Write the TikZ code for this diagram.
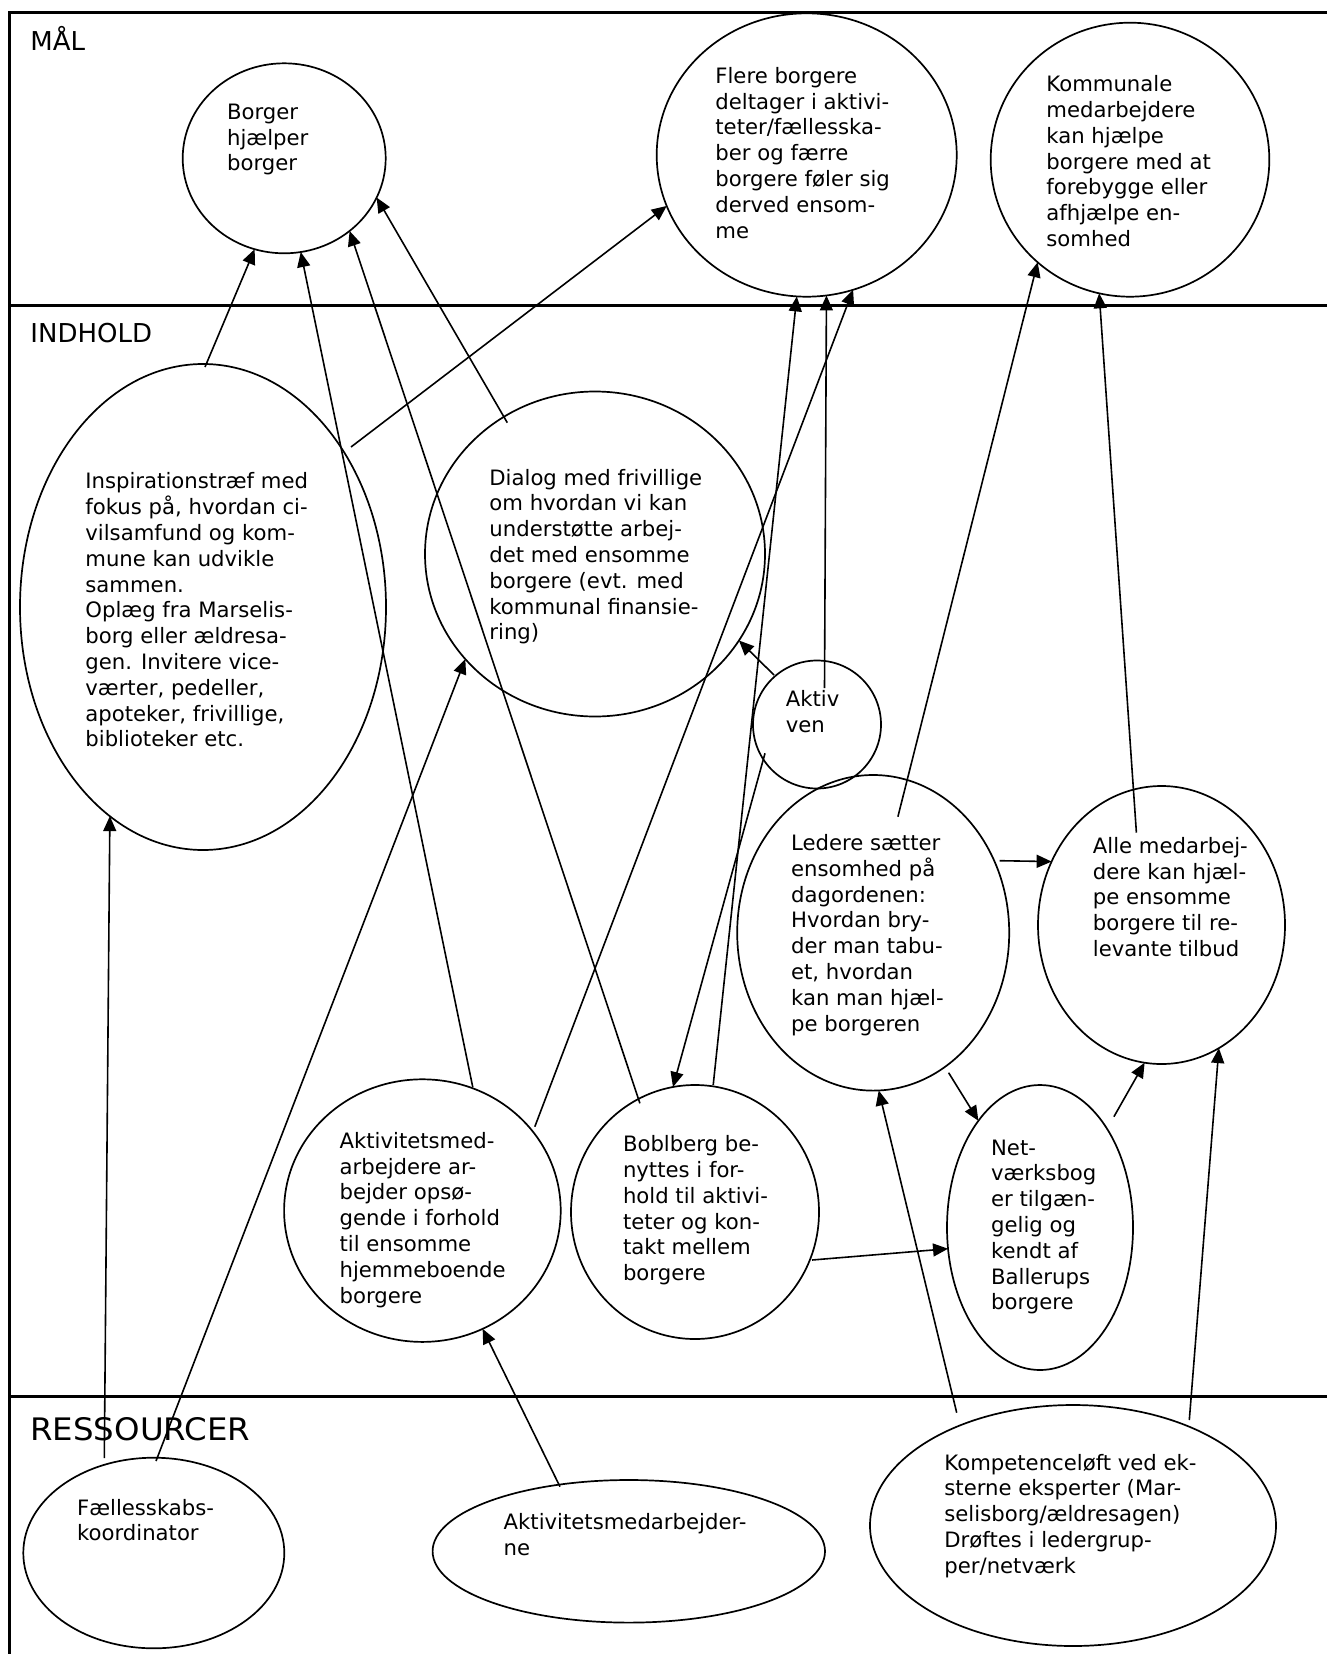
\documentclass[tikz,border=0pt]{standalone}
\usepackage{fontspec}
\setmainfont{DejaVu Sans}
\newfontfamily\widesans{DejaVu Sans}[FakeStretch=1.045]
\usetikzlibrary{arrows.meta,calc,shapes.geometric}
\newcommand{\txtblock}[1]{\begin{tabular}[t]{@{}l@{}}#1\end{tabular}}
\begin{document}
\begin{tikzpicture}[x=0.5pt,y=-0.5pt,
  ell/.style={draw,ellipse,line width=0.85pt,inner sep=0pt,outer sep=0pt},
  lbl/.style={anchor=base west,inner sep=0pt,font=\fontsize{10.6pt}{12.9pt}\selectfont},
  sect/.style={anchor=base west,inner sep=0pt,font=\fontsize{13pt}{15pt}\selectfont},
  conn/.style={line width=0.8pt,-{Triangle[length=7.5pt,width=6.5pt]}},
  frame/.style={line width=1.5pt}]
\useasboundingbox (0,0) rectangle (1327,1654);
% frame
\draw[frame] (9.5,1660) -- (9.5,12) -- (1330,12);
\draw[frame] (9.5,305) -- (1330,305);
\draw[frame] (9.5,1396.7) -- (1330,1396.7);
% section labels
\node[sect] (mal) at (30,50) {MÅL};
\node[sect] (indhold) at (30,342) {INDHOLD};
\node[sect,font=\widesans\fontsize{15.5pt}{18pt}\selectfont] (ress) at (30,1440) {RESSOURCER};
% ellipses (sizes in pt = half the pixel size)
\node[ell,minimum width=101.5pt,minimum height=95pt] (borger) at (284.2,158.3) {};
\node[ell,minimum width=150pt,minimum height=141.7pt] (flere) at (806.7,155) {};
\node[ell,minimum width=139.3pt,minimum height=137pt] (kommunal) at (1130,159.7) {};
\node[ell,minimum width=183pt,minimum height=243pt] (insp) at (203,607) {};
\node[ell,minimum width=170pt,minimum height=162.5pt] (dialog) at (595,554) {};
\node[ell,minimum width=64pt,minimum height=64pt] (aktivven) at (817,724.5) {};
\node[ell,minimum width=136pt,minimum height=157.8pt] (ledere) at (873.2,932.8) {};
\node[ell,minimum width=123.5pt,minimum height=139pt] (alle) at (1161.5,925) {};
\node[ell,minimum width=138.3pt,minimum height=131.3pt] (aktmed) at (422.4,1210.6) {};
\node[ell,minimum width=124pt,minimum height=127pt] (boblberg) at (695,1212) {};
\node[ell,minimum width=93pt,minimum height=142.5pt] (netvaerk) at (1040,1227.5) {};
\node[ell,minimum width=130.5pt,minimum height=95.3pt] (faelles) at (153.8,1553) {};
\node[ell,minimum width=196.2pt,minimum height=71.3pt] (aktmedne) at (628.8,1551.3) {};
\node[ell,minimum width=203pt,minimum height=120.5pt] (kompetence) at (1073,1525.5) {};
% texts
\node[lbl] (borger-t) at (226.7,119.3) {\txtblock{Borger\\hjælper\\borger}};
\node[lbl] (flere-t) at (715,83.3) {\txtblock{Flere borgere\\deltager i aktivi-\\teter/fællesska-\\ber og færre\\borgere føler sig\\derved ensom-\\me}};
\node[lbl] (kommunal-t) at (1046,91.7) {\txtblock{Kommunale\\medarbejdere\\kan hjælpe\\borgere med at\\forebygge eller\\afhjælpe en-\\somhed}};
\node[lbl] (insp-t) at (85,488.3) {\txtblock{Inspirationstræf med\\fokus på, hvordan ci-\\vilsamfund og kom-\\mune kan udvikle\\sammen.\\Oplæg fra Marselis-\\borg eller ældresa-\\gen. Invitere vice-\\værter, pedeller,\\apoteker, frivillige,\\biblioteker etc.}};
\node[lbl] (dialog-t) at (489,485) {\txtblock{Dialog med frivillige\\om hvordan vi kan\\understøtte arbej-\\det med ensomme\\borgere (evt. med\\kommunal finansie-\\ring)}};
\node[lbl] (aktivven-t) at (785.4,706.7) {\txtblock{Aktiv\\ven}};
\node[lbl] (ledere-t) at (790.7,850) {\txtblock{Ledere sætter\\ensomhed på\\dagordenen:\\Hvordan bry-\\der man tabu-\\et, hvordan\\kan man hjæl-\\pe borgeren}};
\node[lbl] (alle-t) at (1092.5,853.3) {\txtblock{Alle medarbej-\\dere kan hjæl-\\pe ensomme\\borgere til re-\\levante tilbud}};
\node[lbl] (aktmed-t) at (339.2,1148.3) {\txtblock{Aktivitetsmed-\\arbejdere ar-\\bejder opsø-\\gende i forhold\\til ensomme\\hjemmeboende\\borgere}};
\node[lbl] (boblberg-t) at (622.6,1151.7) {\txtblock{Boblberg be-\\nyttes i for-\\hold til aktivi-\\teter og kon-\\takt mellem\\borgere}};
\node[lbl] (netvaerk-t) at (990.7,1155) {\txtblock{Net-\\værksbog\\er tilgæn-\\gelig og\\kendt af\\Ballerups\\borgere}};
\node[lbl] (faelles-t) at (76.7,1515) {\txtblock{Fællesskabs-\\koordinator}};
\node[lbl] (aktmedne-t) at (503.3,1529.3) {\txtblock{Aktivitetsmedarbejder-\\ne}};
\node[lbl] (kompetence-t) at (944,1470) {\txtblock{Kompetenceløft ved ek-\\sterne eksperter (Mar-\\selisborg/ældresagen)\\Drøftes i ledergrup-\\per/netværk}};
% connectors
\draw[conn] ($(insp.center)+(2,-240)$) -- (borger.-108.9);
\draw[conn] ($(aktmed.center)+(50.4,-123.3)$) -- (borger.-80.2);
\draw[conn] ($(boblberg.center)+(-55.1,-108.7)$) -- (borger.-48.6);
\draw[conn] ($(dialog.center)+(-87.7,-131.3)$) -- (borger.-23.2);
\draw[conn] ($(insp.center)+(148,-160)$) -- (flere.-160.9);
\draw[conn] ($(aktmed.center)+(112.4,-83.9)$) -- (flere.-71.0);
\draw[conn] ($(boblberg.center)+(18.2,-127)$) -- (flere.-94.7);
\draw[conn] ($(aktivven.center)+(7.5,-36.5)$) -- (flere.-82.9);
\draw[conn] ($(ledere.center)+(24.7,-116.1)$) -- (kommunal.-132.0);
\draw[conn] ($(alle.center)+(-25.1,-92.3)$) -- (kommunal.-103.7);
\draw[conn] ($(faelles.center)+(-49.5,-95)$) -- (insp.-114.9);
\draw[conn] ($(faelles.center)+(2.2,-92)$) -- (dialog.-141.9);
\draw[conn] ($(aktivven.center)+(-43,-49.5)$) -- (dialog.-31.5);
\draw[conn] ($(aktivven.center)+(-52,28.8)$) -- (boblberg.100.1);
\draw[conn] ($(ledere.center)+(126.4,-72.1)$) -- (alle.150.1);
\draw[conn] ($(ledere.center)+(75.4,139.9)$) -- (netvaerk.120.2);
\draw[conn] ($(netvaerk.center)+(73.9,-110.8)$) -- (alle.-97.6);
\draw[conn] ($(boblberg.center)+(117,48)$) -- (netvaerk.-167.4);
\draw[conn] ($(kompetence.center)+(-116.3,-112.8)$) -- (ledere.-88.8);
\draw[conn] ($(kompetence.center)+(116.3,-105.5)$) -- (alle.-65.1);
\draw[conn] ($(aktmedne.center)+(-68.8,-64.6)$) -- (aktmed.-63.6);
\end{tikzpicture}
\end{document}
